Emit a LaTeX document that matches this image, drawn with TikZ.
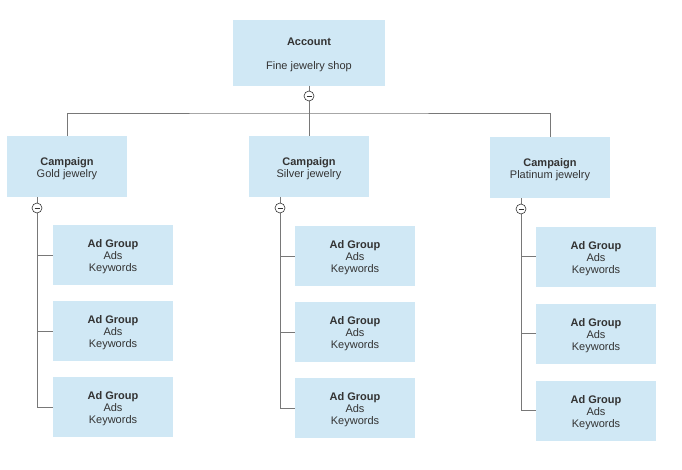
\documentclass[tikz,border=0pt]{standalone}
\usepackage{fontspec}
\setmainfont{Liberation Sans}
\definecolor{boxfill}{RGB}{208,232,245}
\definecolor{txt}{RGB}{51,51,51}
\definecolor{lin}{RGB}{120,120,120}
\newcommand{\tstrut}{\rule{0pt}{11.5pt}}
\tikzset{
  box/.style={rectangle, fill=boxfill, draw=none, text=txt, align=center,
    minimum width=120pt, minimum height=61pt, inner sep=0pt,
    font=\fontsize{11}{12}\selectfont},
  conn/.style={draw=lin, line width=0.8pt},
  toggle/.style={circle, draw=txt, fill=white, line width=0.6pt, minimum size=10pt, inner sep=0pt,
    path picture={\draw[txt, line width=0.6pt] ([xshift=-2.5pt]path picture bounding box.center) -- ([xshift=2.5pt]path picture bounding box.center);}}
}
\begin{document}
\begin{tikzpicture}[x=1pt,y=-1pt]
\useasboundingbox (0,0) rectangle (682,469);
% account
\node[box, minimum width=152pt, minimum height=66pt] (acc) at (309,52.5)
  {\tstrut\textbf{Account}\\[12pt]Fine jewelry shop};
% campaigns
\node[box] (gold) at (67,166.5) {\tstrut\textbf{Campaign}\\Gold jewelry};
\node[box] (silver) at (309,166.5) {\tstrut\textbf{Campaign}\\Silver jewelry};
\node[box] (plat) at (550,167.5) {\tstrut\textbf{Campaign}\\Platinum jewelry};
% ad groups
\foreach \n/\x/\y in {g1/113/255, g2/113/331, g3/113/407,
                      s1/355/256, s2/355/332, s3/355/408,
                      p1/596/256.5, p2/596/333.5, p3/596/410.5}{
  \node[box, minimum height=60pt] (\n) at (\x,\y) {\tstrut\textbf{Ad Group}\\Ads\\Keywords};
}
% account connectors
\coordinate (jn) at (309,113);
\draw[conn] (acc.south) -- (jn);
\draw[conn] (gold.north) |- (jn) -| (plat.north);
\draw[conn] (jn) -- (silver.north);
\node[toggle] (t0) at (309,96) {};
% campaign connectors
\draw[conn] ([xshift=-30pt]gold.south) |- (g3.west);
\draw[conn] ([xshift=-30pt]gold.south) |- (g1.west);
\draw[conn] ([xshift=-30pt]gold.south) |- (g2.west);
\draw[conn] ([xshift=-29pt]silver.south) |- (s3.west);
\draw[conn] ([xshift=-29pt]silver.south) |- (s1.west);
\draw[conn] ([xshift=-29pt]silver.south) |- (s2.west);
\draw[conn] ([xshift=-29pt]plat.south) |- (p3.west);
\draw[conn] ([xshift=-29pt]plat.south) |- (p1.west);
\draw[conn] ([xshift=-29pt]plat.south) |- (p2.west);
\node[toggle] (tg) at (37,208) {};
\node[toggle] (ts) at (280,208) {};
\node[toggle] (tp) at (521,209) {};
\end{tikzpicture}
\end{document}
